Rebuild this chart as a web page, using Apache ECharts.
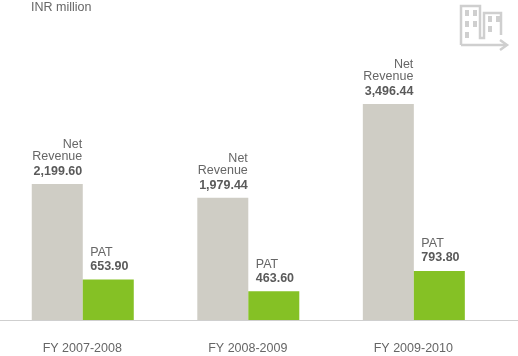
<!DOCTYPE html>
<html>
<head>
<meta charset="utf-8">
<style>html,body{margin:0;padding:0;background:#fff}#c{width:518px;height:356px}</style>
<script src="https://cdn.jsdelivr.net/npm/echarts@6/dist/echarts.min.js"></script>
</head>
<body>
<div id="c"></div>
<script>
const years = ['FY 2007-2008','FY 2008-2009','FY 2009-2010'];
const netRevenue = [2199.60,1979.44,3496.44];
const pat = [653.90,463.60,793.80];
const unitLabel = 'INR million';

const fmt = v => v.toLocaleString('en-US',{minimumFractionDigits:2,maximumFractionDigits:2});
const font = '"Liberation Sans", Arial, sans-serif';

// window rects of the icon: x,y
const win = [[465,10],[473,10],[465,21],[473,21],[465,32],[488,16],[496,16],[488,26]];
const iconStyle = {stroke:'#cfcfcf',lineWidth:2.5,fill:'none'};

const chart = echarts.init(document.getElementById('c'),null,{renderer:'canvas'});
chart.setOption({
  animation:false,
  backgroundColor:'#fff',
  grid:{left:-2,width:498.6,top:20,height:300},
  xAxis:{type:'category',data:years,
    axisLine:{show:false},axisTick:{show:false},
    axisLabel:{color:'#666',fontFamily:font,fontSize:12.5,margin:22,padding:[0,1,0,0]}},
  yAxis:{type:'value',min:0,max:4856,show:false,splitLine:{show:false}},
  series:[
    {name:'Net Revenue',type:'bar',data:netRevenue,barWidth:51,barGap:0,
      itemStyle:{color:'#cfcdc5'},z:3,
      label:{show:true,position:'top',align:'right',offset:[25,1.5],
        formatter:p=>'{n|Net}\n{n|Revenue}\n{b|'+fmt(p.value)+'}',
        rich:{n:{align:'right',color:'#666',fontFamily:font,fontSize:12.5,lineHeight:12},
              b:{align:'right',color:'#5a5a5a',fontFamily:font,fontSize:12.5,fontWeight:'bold',lineHeight:18}}}},
    {name:'PAT',type:'bar',data:pat,barWidth:51,barGap:0,
      itemStyle:{color:'#85c125'},z:3,
      label:{show:true,position:'top',align:'left',offset:[-18,-1],
        formatter:p=>'{n|PAT}\n{b|'+fmt(p.value)+'}',
        rich:{n:{align:'left',color:'#666',fontFamily:font,fontSize:12.5,lineHeight:14},
              b:{align:'left',color:'#5a5a5a',fontFamily:font,fontSize:12.5,fontWeight:'bold',lineHeight:14}}}}
  ],
  graphic:[
    {type:'line',shape:{x1:0,y1:320.5,x2:518,y2:320.5},style:{stroke:'#cfcfcf',lineWidth:1},z:5},
    {type:'text',x:31,y:1,style:{text:unitLabel,fill:'#666',font:'12.5px '+font}},
    {type:'polyline',shape:{points:[[461,45],[461,6],[480,6],[480,38],[484,38],[484,13],[501,13],[501,35]]},style:iconStyle},
    {type:'polyline',shape:{points:[[461,45],[506,45]]},style:iconStyle},
    {type:'polyline',shape:{points:[[500,40],[507,45],[500,50]]},style:iconStyle}
  ].concat(win.map(w=>({type:'rect',shape:{x:w[0],y:w[1],width:4,height:6},style:{fill:'#cfcfcf',stroke:'none'}})))
});
</script>
</body>
</html>
